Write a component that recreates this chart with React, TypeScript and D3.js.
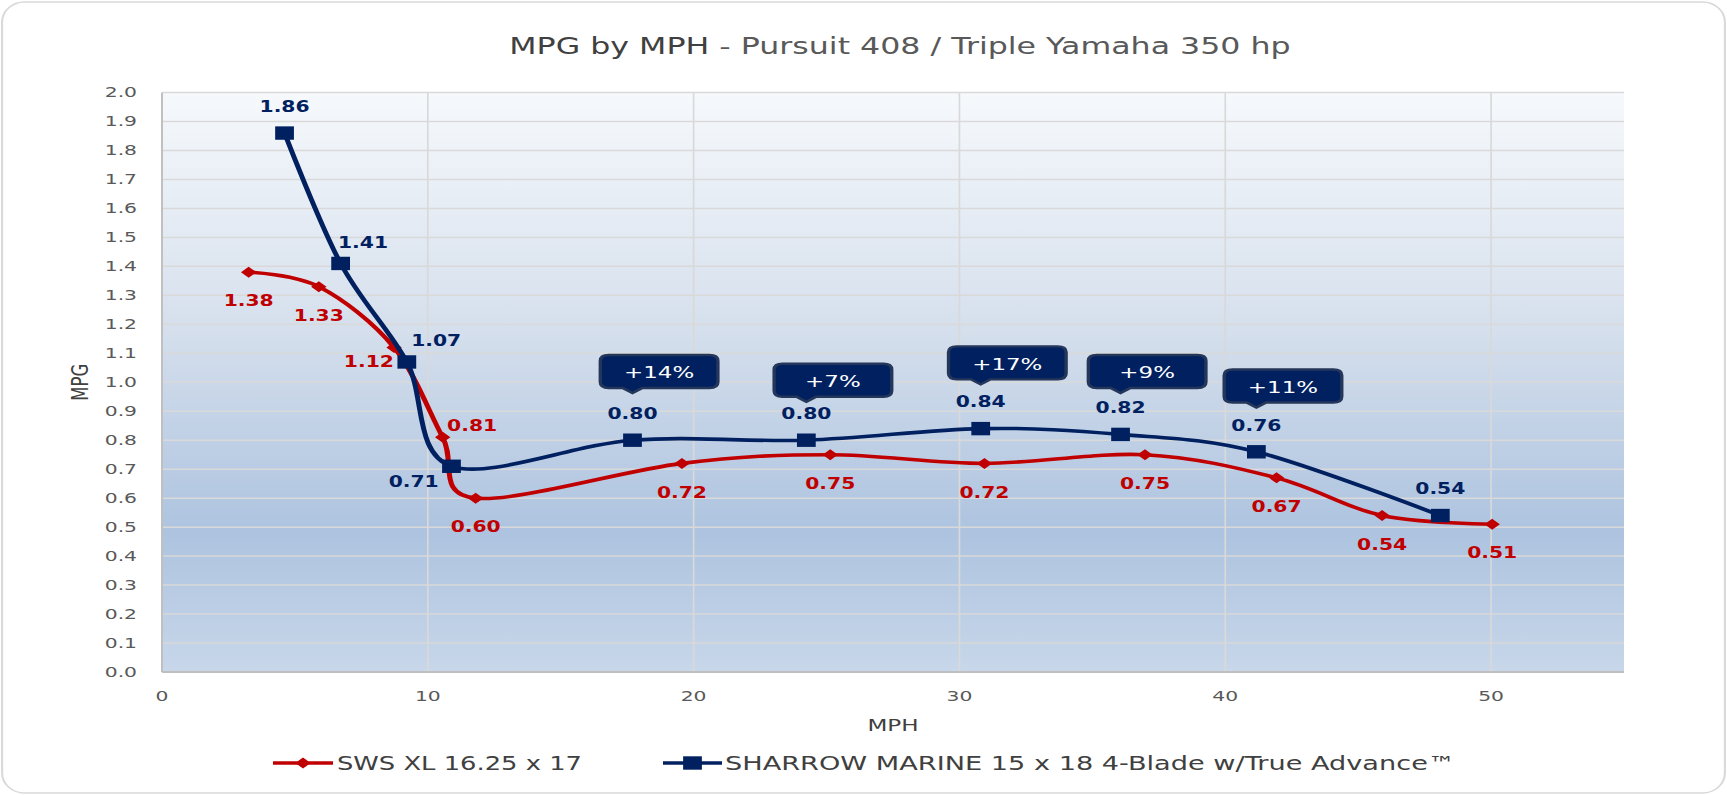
import * as d3 from "d3";

// MPH (x) and MPG (y)
const swsMph = [3.26, 5.9, 8.73, 10.56, 11.8, 19.56, 25.14, 30.94, 36.98, 41.93, 45.9, 50.04];
const swsMpg = [1.38, 1.33, 1.12, 0.81, 0.6, 0.72, 0.75, 0.72, 0.75, 0.67, 0.54, 0.51];
const swsLabelPlace = ["b", "b", "l", "r", "b", "b", "b", "b", "b", "b", "b", "b"];

const sharrowMph = [4.61, 6.72, 9.21, 10.89, 17.7, 24.24, 30.8, 36.06, 41.17, 48.09];
const sharrowMpg = [1.86, 1.41, 1.07, 0.71, 0.8, 0.8, 0.84, 0.82, 0.76, 0.54];
const sharrowLabelPlace = ["t", "tr", "tr2", "bl", "t", "t", "t", "t", "t", "t"];

// percentage gain callouts, attached to SHARROW points
const gainLabels = ["+14%", "+7%", "+17%", "+9%", "+11%"];
const gainPointIndex = [4, 5, 6, 7, 8];
const gainBoxLevel = [0.98, 0.95, 1.01, 0.98, 0.93];

const mphTicks = [0, 10, 20, 30, 40, 50];
const mpgTicks = [0, 0.1, 0.2, 0.3, 0.4, 0.5, 0.6, 0.7, 0.8, 0.9, 1.0, 1.1, 1.2, 1.3, 1.4, 1.5, 1.6, 1.7, 1.8, 1.9, 2.0];

const seriesNames = ["SWS XL 16.25 x 17", "SHARROW MARINE 15 x 18 4-Blade w/True Advance™"];

const RED = "#c00000";
const NAVY = "#002060";
const FONT = "DejaVu Sans";

// the reference is stretched horizontally, so draw in a narrower box and stretch it
const SX = 1.4;
const WIDTH = 1727;
const HEIGHT = 795;
const VW = WIDTH / SX;
const px = (a: number) => a / SX;

const labelOffset: Record<string, [number, number]> = {
  t: [0, -27],
  b: [0, 28.5],
  tr: [16, -21.5],
  tr2: [21, -22],
  r: [21, -12],
  l: [-18, 14],
  bl: [-27, 15],
};

function diamond(cx: number, cy: number, r = 5.5) {
  return `M${cx},${cy - r} L${cx + r},${cy} L${cx},${cy + r} L${cx - r},${cy} Z`;
}

function calloutPath(x0: number, x1: number, y0: number, y1: number, tip: number, r = 6) {
  return (
    `M${x0 + r},${y0} H${x1 - r} Q${x1},${y0} ${x1},${y0 + r} V${y1 - r} Q${x1},${y1} ${x1 - r},${y1} ` +
    `H${tip + 7} L${tip},${y1 + 5} L${tip - 7},${y1} H${x0 + r} Q${x0},${y1} ${x0},${y1 - r} V${y0 + r} Q${x0},${y0} ${x0 + r},${y0} Z`
  );
}

// data label: a bit taller than the stretch alone gives
function ValueLabel({ x, y, text, color }: { x: number; y: number; text: string; color: string }) {
  return (
    <text
      transform={`translate(${x},${y}) scale(0.9,1)`}
      textAnchor="middle"
      dominantBaseline="central"
      fontSize={16.1}
      fontWeight="bold"
      fill={color}
    >
      {text}
    </text>
  );
}

export default function App() {
  const left = px(162);
  const right = px(1624);
  const top = 92.5;
  const bottom = 672;

  const x = d3.scaleLinear().domain([0, 55]).range([left, right]);
  const y = d3.scaleLinear().domain([0, 2]).range([bottom, top]);

  const line = d3
    .line<[number, number]>()
    .x((d) => x(d[0]))
    .y((d) => y(d[1]))
    .curve(d3.curveCardinal.tension(0));

  const sws = swsMph.map((m, i) => [m, swsMpg[i]] as [number, number]);
  const sharrow = sharrowMph.map((m, i) => [m, sharrowMpg[i]] as [number, number]);
  const fmt = d3.format(".2f");

  const legendY = 763;

  return (
    <svg
      width={WIDTH}
      height={HEIGHT}
      viewBox={`0 0 ${VW} ${HEIGHT}`}
      preserveAspectRatio="none"
      style={{ position: "absolute", left: 0, top: 0, background: "#fff" }}
      fontFamily={FONT}
    >
      <defs>
        <linearGradient id="plotBg" x1="0" y1="0" x2="0" y2="1">
          <stop offset="0" stopColor="#f6f9fc" />
          <stop offset="0.4" stopColor="#d6e0ed" />
          <stop offset="0.76" stopColor="#adc3df" />
          <stop offset="1" stopColor="#c8d7ea" />
        </linearGradient>
      </defs>

      {/* chart frame */}
      <rect x={1.5} y={2} width={VW - 3} height={HEIGHT - 4} rx={16} ry={20} fill="#fff" stroke="#d9d9d9" strokeWidth={1.5} />

      {/* title */}
      <text x={px(900)} y={54} textAnchor="middle" fontSize={22.6}>
        <tspan fill="#404040">MPG by MPH</tspan>
        <tspan fill="#595959"> - Pursuit 408 / Triple Yamaha 350 hp</tspan>
      </text>

      {/* plot area */}
      <rect x={left} y={top} width={right - left} height={bottom - top} fill="url(#plotBg)" />

      {mpgTicks.map((t) => (
        <line key={`h${t}`} x1={left} x2={right} y1={y(t)} y2={y(t)} stroke="#d9d9d9" strokeWidth={1.5} />
      ))}
      {mphTicks.slice(1).map((t) => (
        <line key={`v${t}`} x1={x(t)} x2={x(t)} y1={top} y2={bottom} stroke="#d9d9d9" strokeWidth={1.2} />
      ))}
      <line x1={left} x2={left} y1={top} y2={bottom} stroke="#bfbfbf" strokeWidth={1.4} />
      <line x1={left} x2={right} y1={bottom} y2={bottom} stroke="#bfbfbf" strokeWidth={2} />

      {/* axis tick labels */}
      {mpgTicks.map((t) => (
        <text key={`yl${t}`} x={px(137)} y={y(t)} textAnchor="end" dominantBaseline="central" fontSize={14.5} fill="#595959">
          {t.toFixed(1)}
        </text>
      ))}
      {mphTicks.map((t) => (
        <text key={`xl${t}`} x={x(t)} y={701} textAnchor="middle" fontSize={14.5} fill="#595959">
          {t}
        </text>
      ))}

      {/* axis titles */}
      <text transform={`translate(${px(88)},${(top + bottom) / 2}) rotate(-90)`} textAnchor="middle" fontSize={16.5} fill="#404040">
        MPG
      </text>
      <text x={(left + right) / 2} y={731} textAnchor="middle" fontSize={16.5} fill="#404040">
        MPH
      </text>

      {/* series lines */}
      <path d={line(sws) ?? ""} fill="none" stroke={RED} strokeWidth={3.6} />
      {sws.map((d, i) => (
        <path key={`sm${i}`} d={diamond(x(d[0]), y(d[1]))} fill={RED} />
      ))}
      <path d={line(sharrow) ?? ""} fill="none" stroke={NAVY} strokeWidth={3.6} />
      {sharrow.map((d, i) => (
        <rect key={`hm${i}`} x={x(d[0]) - 6.7} y={y(d[1]) - 6.7} width={13.4} height={13.4} fill={NAVY} />
      ))}

      {/* data labels */}
      {sws.map((d, i) => {
        const [dx, dy] = labelOffset[swsLabelPlace[i]];
        return <ValueLabel key={`sl${i}`} x={x(d[0]) + dx} y={y(d[1]) + dy} text={fmt(d[1])} color={RED} />;
      })}
      {sharrow.map((d, i) => {
        const [dx, dy] = labelOffset[sharrowLabelPlace[i]];
        return <ValueLabel key={`hl${i}`} x={x(d[0]) + dx} y={y(d[1]) + dy} text={fmt(d[1])} color={NAVY} />;
      })}

      {/* gain callouts */}
      {gainLabels.map((g, i) => {
        const tip = x(sharrowMph[gainPointIndex[i]]);
        const y1 = y(gainBoxLevel[i]);
        const y0 = y1 - 33;
        const x0 = tip - 23;
        const x1 = tip + 61;
        return (
          <g key={`g${i}`}>
            <path d={calloutPath(x0, x1, y0, y1, tip)} fill={NAVY} stroke="#24375a" strokeWidth={2.4} />
            <text x={(x0 + x1) / 2} y={(y0 + y1) / 2 + 1} textAnchor="middle" dominantBaseline="central" fontSize={16.4} fill="#fff">
              {g}
            </text>
          </g>
        );
      })}

      {/* legend */}
      <line x1={px(273)} x2={px(333)} y1={legendY} y2={legendY} stroke={RED} strokeWidth={3.6} />
      <path d={diamond(px(303), legendY)} fill={RED} />
      <text x={px(337)} y={legendY} dominantBaseline="central" fontSize={19} textLength={px(245)} lengthAdjust="spacingAndGlyphs" fill="#404040">
        {seriesNames[0]}
      </text>
      <line x1={px(663)} x2={px(722)} y1={legendY} y2={legendY} stroke={NAVY} strokeWidth={3.6} />
      <rect x={px(692.5) - 6.7} y={legendY - 6.7} width={13.4} height={13.4} fill={NAVY} />
      <text x={px(725)} y={legendY} dominantBaseline="central" fontSize={19} textLength={px(730)} lengthAdjust="spacingAndGlyphs" fill="#404040">
        {seriesNames[1]}
      </text>
    </svg>
  );
}
